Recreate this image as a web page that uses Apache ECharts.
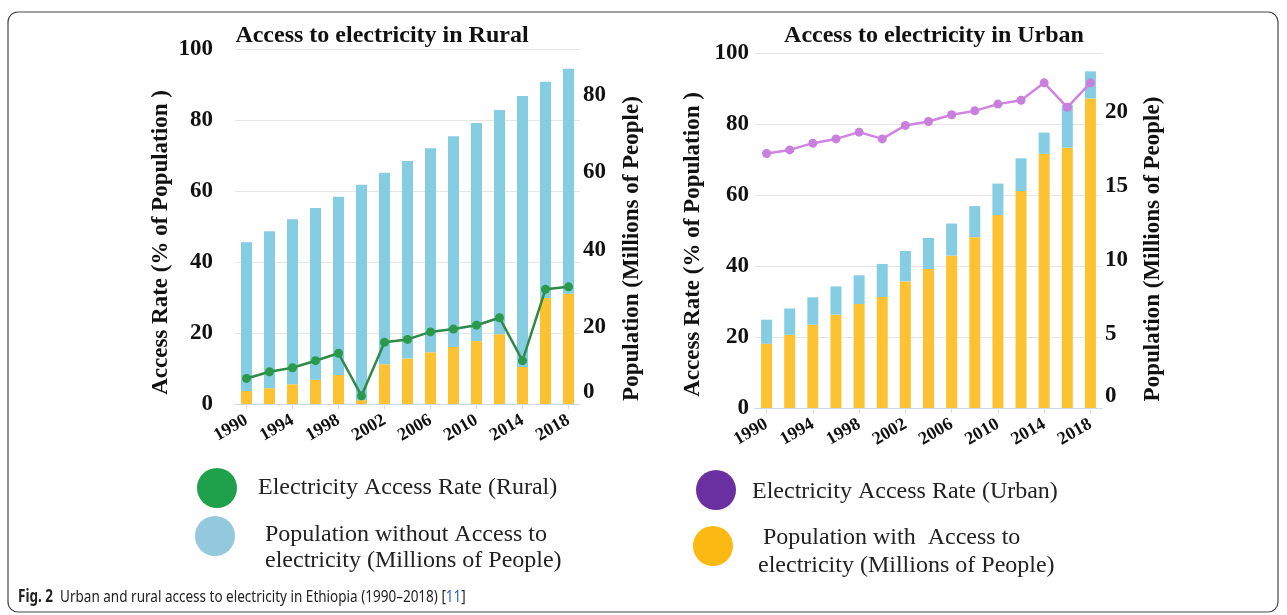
<!DOCTYPE html>
<html>
<head>
<meta charset="utf-8">
<script src="https://cdn.jsdelivr.net/npm/echarts@6/dist/echarts.min.js"></script>
<style>
html,body{margin:0;padding:0;background:#fff;}
#chart{width:1287px;height:615px;}
</style>
</head>
<body>
<div id="chart"></div>
<script>
const years = ['1990','1992','1994','1996','1998','2000','2002','2004','2006','2008','2010','2012','2014','2016','2018'];
const ruralAccessRate = [7.2, 9.1, 10.2, 12.2, 14.3, 2.3, 17.4, 18.2, 20.3, 21.1, 22.2, 24.3, 12.2, 32.3, 33.0];
const ruralWithAccess = [3.4, 4.1, 5.1, 6.3, 7.5, 1.0, 10.3, 11.8, 13.4, 14.8, 16.3, 18.1, 9.6, 27.5, 28.6];
const ruralWithoutAccess = [38.5, 40.7, 42.8, 44.5, 46.2, 55.8, 49.6, 51.2, 52.9, 54.6, 56.5, 58.1, 70.2, 56.0, 58.3];
const urbanAccessRate = [71.7, 72.7, 74.6, 75.8, 77.7, 75.8, 79.6, 80.7, 82.6, 83.7, 85.6, 86.7, 91.6, 84.7, 91.6];
const urbanWithAccess = [4.34, 4.95, 5.63, 6.31, 7.03, 7.5, 8.56, 9.4, 10.3, 11.55, 13.04, 14.67, 17.18, 17.6, 20.93];
const urbanWithoutAccess = [1.63, 1.78, 1.85, 1.91, 1.94, 2.24, 2.06, 2.1, 2.17, 2.1, 2.13, 2.21, 1.44, 2.9, 1.83];
const rateTicks = [0, 20, 40, 60, 80, 100];
const ruralPopTicks = [0, 20, 40, 60, 80];
const urbanPopTicks = [0, 5, 10, 15, 20];

const SERIF = '"Liberation Serif", "Times New Roman", serif';
const SANS = '"Noto Sans", "Open Sans", sans-serif';
const BLUE = '#84cde2';
const ORANGE = '#fdc232';

function xAxisFor(grid) {
  return {
    type: 'category', gridIndex: grid, data: years,
    axisLine: {show: true, lineStyle: {color: '#ccd8e8', width: 1}},
    axisTick: {show: true, alignWithLabel: true, interval: 1, length: 5, lineStyle: {color: '#d6dbe3'}},
    axisLabel: {interval: 1, rotate: 30, margin: 15, color: '#111', fontFamily: SERIF, fontWeight: 'bold', fontSize: 18}
  };
}
function rateAxis(grid, margin, gap, shift) {
  return {
    type: 'value', gridIndex: grid, position: 'left', min: rateTicks[0], max: rateTicks[rateTicks.length - 1], interval: rateTicks[1] - rateTicks[0],
    name: 'Access Rate (% of Population )', nameLocation: 'middle', nameRotate: 90, nameGap: gap,
    nameTextStyle: {fontFamily: SERIF, fontWeight: 'bold', fontSize: 23, color: '#111', padding: [0, shift, 0, 0]},
    axisLine: {show: false}, axisTick: {show: false},
    axisLabel: {margin: margin, color: '#111', fontFamily: SERIF, fontWeight: 'bold', fontSize: 23},
    splitLine: {show: true, lineStyle: {color: '#e6e6e6', width: 1}}
  };
}
function popAxis(grid, ticks, max, gap, shift) {
  return {
    type: 'value', gridIndex: grid, position: 'right', min: ticks[0], max: max, interval: ticks[1] - ticks[0],
    name: 'Population (Millions of People)', nameLocation: 'middle', nameRotate: 90, nameGap: gap,
    nameTextStyle: {fontFamily: SERIF, fontWeight: 'bold', fontSize: 23, color: '#111', padding: [0, shift, 0, 0]},
    axisLine: {show: false}, axisTick: {show: false}, splitLine: {show: false},
    axisLabel: {margin: 3, showMaxLabel: false, verticalAlignMinLabel: 'bottom', color: '#111', fontFamily: SERIF, fontWeight: 'bold', fontSize: 23}
  };
}

const legendText = {fontFamily: SERIF, fontSize: 24, fill: '#222', textVerticalAlign: 'middle'};
const capRich = {
  b: {fontWeight: 'bold', fontFamily: SANS, fontSize: 17, fill: '#222'},
  l: {fill: '#2a5bd7', fontFamily: SANS, fontSize: 17}
};

const option = {
  backgroundColor: '#fff',
  animation: false,
  grid: [
    {left: 235, top: 49, width: 345, height: 355},
    {left: 755, top: 53, width: 347, height: 355}
  ],
  xAxis: [xAxisFor(0), xAxisFor(1)],
  yAxis: [
    rateAxis(0, 22, 62, 32),
    popAxis(0, ruralPopTicks, 92, 41, 44),
    rateAxis(1, 6, 50, 28),
    popAxis(1, urbanPopTicks, 24, 40, 37)
  ],
  series: [
    {name: 'Rural with access', type: 'bar', xAxisIndex: 0, yAxisIndex: 1, stack: 'rural', barWidth: 11, data: ruralWithAccess, itemStyle: {color: ORANGE}},
    {name: 'Rural without access', type: 'bar', xAxisIndex: 0, yAxisIndex: 1, stack: 'rural', barWidth: 11, data: ruralWithoutAccess, itemStyle: {color: BLUE}},
    {name: 'Electricity Access Rate (Rural)', type: 'line', xAxisIndex: 0, yAxisIndex: 0, data: ruralAccessRate, symbol: 'circle', symbolSize: 9,
      lineStyle: {color: '#2f8a48', width: 2.5}, itemStyle: {color: '#2a9a4a'}, z: 5},
    {name: 'Urban with access', type: 'bar', xAxisIndex: 1, yAxisIndex: 3, stack: 'urban', barWidth: 11, data: urbanWithAccess, itemStyle: {color: ORANGE}},
    {name: 'Urban without access', type: 'bar', xAxisIndex: 1, yAxisIndex: 3, stack: 'urban', barWidth: 11, data: urbanWithoutAccess, itemStyle: {color: BLUE}},
    {name: 'Electricity Access Rate (Urban)', type: 'line', xAxisIndex: 1, yAxisIndex: 2, data: urbanAccessRate, symbol: 'circle', symbolSize: 9,
      lineStyle: {color: '#d083e0', width: 2.5}, itemStyle: {color: '#c97fdc'}, z: 5}
  ],
  graphic: [
    {type: 'rect', shape: {x: 8, y: 12, width: 1270, height: 600, r: 10}, style: {fill: 'none', stroke: '#444', lineWidth: 1.2}, silent: true},
    {type: 'text', style: {x: 382, y: 36, text: 'Access to electricity in Rural', textAlign: 'center', textVerticalAlign: 'middle', fontFamily: SERIF, fontWeight: 'bold', fontSize: 24, fill: '#111'}},
    {type: 'text', style: {x: 934, y: 36, text: 'Access to electricity in Urban', textAlign: 'center', textVerticalAlign: 'middle', fontFamily: SERIF, fontWeight: 'bold', fontSize: 24, fill: '#111'}},
    {type: 'circle', shape: {cx: 217, cy: 488, r: 20}, style: {fill: '#1fa14c'}},
    {type: 'circle', shape: {cx: 215, cy: 536, r: 20}, style: {fill: '#93c9dc'}},
    {type: 'circle', shape: {cx: 716, cy: 490, r: 20}, style: {fill: '#6a2fa0'}},
    {type: 'circle', shape: {cx: 713, cy: 546, r: 20}, style: {fill: '#fdb913'}},
    {type: 'text', style: Object.assign({x: 258, y: 488, text: 'Electricity Access Rate (Rural)'}, legendText)},
    {type: 'text', style: Object.assign({x: 265, y: 535, text: 'Population without Access to'}, legendText)},
    {type: 'text', style: Object.assign({x: 265, y: 561, text: 'electricity (Millions of People)'}, legendText)},
    {type: 'text', style: Object.assign({x: 752, y: 492, text: 'Electricity Access Rate (Urban)'}, legendText)},
    {type: 'text', style: Object.assign({x: 763, y: 538, text: 'Population with  Access to'}, legendText)},
    {type: 'text', style: Object.assign({x: 758, y: 566, text: 'electricity (Millions of People)'}, legendText)},
    {type: 'text', x: 18, y: 597, scaleX: 0.795, originX: 0, originY: 0,
      style: {x: 0, y: 0, textVerticalAlign: 'middle',
        text: '{b|Fig. 2}  Urban and rural access to electricity in Ethiopia (1990–2018) [{l|11}]',
        fontFamily: SANS, fontSize: 17, fill: '#222', rich: capRich}}
  ]
};

const chart = echarts.init(document.getElementById('chart'), null, {renderer: 'canvas'});
chart.setOption(option);
</script>
</body>
</html>
